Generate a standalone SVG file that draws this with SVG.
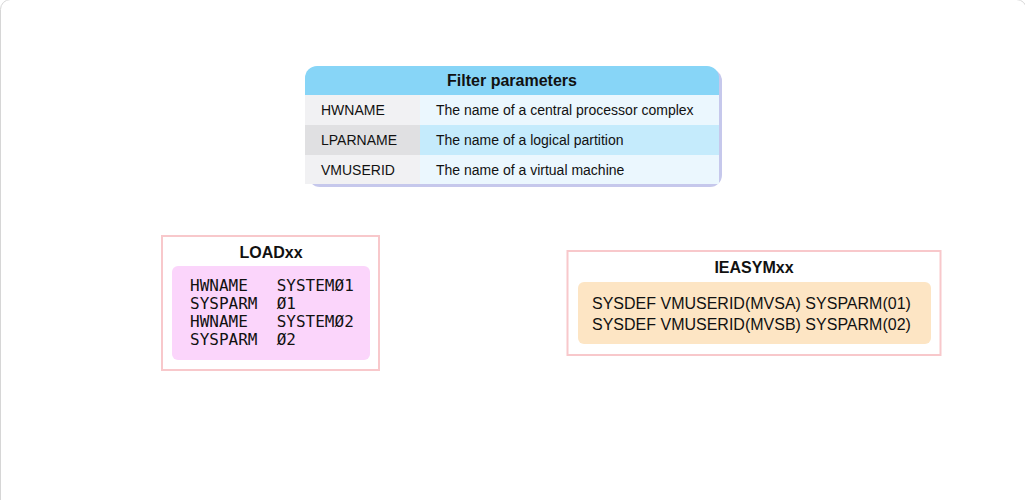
<svg xmlns="http://www.w3.org/2000/svg" width="1025" height="500" viewBox="0 0 1025 500">
<style>
.sans{font-family:"Liberation Sans",Arial,sans-serif;fill:#111}
.cell{font-size:14px}
.title{font-size:16px;font-weight:bold;text-anchor:middle}
.mono{font-family:"DejaVu Sans Mono","Liberation Mono",monospace;font-size:16px;fill:#111;white-space:pre}
.frame{fill:#fff;stroke:#f8c8cb;stroke-width:2}
</style>
<rect x="0" y="0" width="1025" height="500" fill="#fff"/>
<rect x="0.5" y="-0.5" width="1026" height="520" rx="10" fill="#fff" stroke="#d6d6d6" stroke-width="1"/>
<g id="filter-table">
  <rect x="308" y="69" width="414" height="118" rx="12" fill="#c6c8ec"/>
  <rect x="305" y="66" width="414" height="118" rx="12" fill="#87d5f7"/>
  <rect x="305" y="95" width="115" height="30" fill="#f1f1f3"/>
  <rect x="420" y="95" width="299" height="30" fill="#ebf7fe"/>
  <rect x="305" y="125" width="115" height="30" fill="#e0e0e2"/>
  <rect x="420" y="125" width="299" height="30" fill="#c5ebfc"/>
  <rect x="305" y="155" width="115" height="29" fill="#f1f1f3"/>
  <rect x="420" y="155" width="299" height="29" fill="#ebf7fe"/>
  <text class="sans" x="512" y="86" font-size="16" font-weight="bold" text-anchor="middle">Filter parameters</text>
  <text class="sans cell" x="321" y="115">HWNAME</text>
  <text class="sans cell" x="436" y="115">The name of a central processor complex</text>
  <text class="sans cell" x="321" y="145">LPARNAME</text>
  <text class="sans cell" x="436" y="145">The name of a logical partition</text>
  <text class="sans cell" x="321" y="175">VMUSERID</text>
  <text class="sans cell" x="436" y="175">The name of a virtual machine</text>
</g>
<g id="loadxx">
  <rect class="frame" x="162" y="236" width="217" height="134"/>
  <text class="sans title" x="271" y="258">LOADxx</text>
  <rect x="172" y="266" width="198" height="94" rx="6" fill="#fbd5fb"/>
  <text class="mono" x="190" y="291" xml:space="preserve">HWNAME   SYSTEMØ1</text>
  <text class="mono" x="190" y="309" xml:space="preserve">SYSPARM  Ø1</text>
  <text class="mono" x="190" y="327" xml:space="preserve">HWNAME   SYSTEMØ2</text>
  <text class="mono" x="190" y="345" xml:space="preserve">SYSPARM  Ø2</text>
</g>
<g id="ieasymxx">
  <rect class="frame" x="567.5" y="251" width="373" height="104"/>
  <text class="sans title" x="754" y="273">IEASYMxx</text>
  <rect x="578" y="282" width="353" height="62" rx="6" fill="#fde5c4"/>
  <text class="sans" x="592" y="308.5" font-size="16">SYSDEF VMUSERID(MVSA) SYSPARM(01)</text>
  <text class="sans" x="592" y="330" font-size="16">SYSDEF VMUSERID(MVSB) SYSPARM(02)</text>
</g>
<g id="connectors"/>
</svg>
